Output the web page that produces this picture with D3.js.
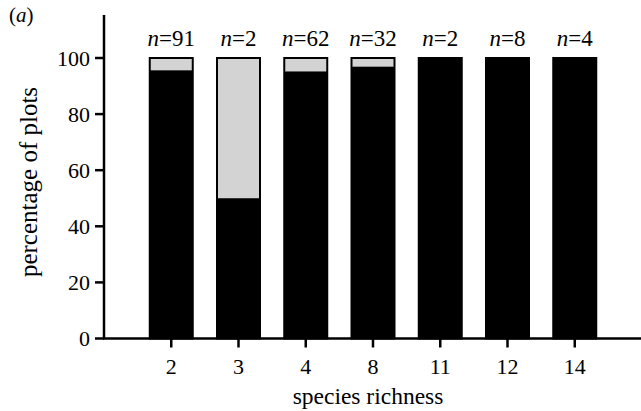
<!DOCTYPE html>
<html>
<head>
<meta charset="utf-8">
<script src="https://cdn.jsdelivr.net/npm/d3@7"></script>
<style>
  body { margin: 0; background: #fff; }
  text { font-family: "Liberation Serif", "Times New Roman", serif; fill: #000; }
</style>
</head>
<body>
<div id="grafico"></div>
<script>
// ==============================
// DATOS
// ==============================

const riqueza = ["2", "3", "4", "8", "11", "12", "14"];
const porcNegro = [95.6, 50, 95.2, 96.9, 100, 100, 100];   // parte negra
const nParcelas = [91, 2, 62, 32, 2, 8, 4];
const ticksY = [0, 20, 40, 60, 80, 100];

// ==============================
// SVG Y ESCALAS
// ==============================

const W = 641, H = 411;
const svg = d3.select("#grafico").append("svg")
  .attr("width", W).attr("height", H);

const x = d3.scalePoint().domain(riqueza).range([104, 642]).padding(1);
const y = d3.scaleLinear().domain([0, 100]).range([338.5, 58]);
const anchoBarra = 43;

// barras: fondo gris hasta 100, parte negra encima
const barras = svg.append("g");
riqueza.forEach((r, i) => {
  const x0 = x(r) - anchoBarra / 2;
  barras.append("rect")
    .attr("x", x0).attr("y", y(100))
    .attr("width", anchoBarra).attr("height", y(0) - y(100))
    .attr("fill", "#d3d3d3");
  barras.append("rect")
    .attr("x", x0).attr("y", y(porcNegro[i]))
    .attr("width", anchoBarra).attr("height", y(0) - y(porcNegro[i]))
    .attr("fill", "#000");
  barras.append("rect")
    .attr("x", x0).attr("y", y(100))
    .attr("width", anchoBarra).attr("height", y(0) - y(100))
    .attr("fill", "none").attr("stroke", "#000").attr("stroke-width", 2);
});

// ==============================
// EJES
// ==============================

const ejeY = svg.append("g").attr("transform", "translate(104,0)");
ejeY.append("line")
  .attr("x1", 0).attr("x2", 0).attr("y1", 15).attr("y2", y(0))
  .attr("stroke", "#000").attr("stroke-width", 2.5);
ejeY.selectAll(".tick").data(ticksY).join("g")
  .attr("transform", d => `translate(0,${y(d)})`)
  .each(function (d) {
    const g = d3.select(this);
    g.append("line").attr("x1", -9).attr("x2", 0)
      .attr("stroke", "#000").attr("stroke-width", 2.5);
    g.append("text").attr("x", -14).attr("dy", "0.35em")
      .attr("text-anchor", "end").attr("font-size", 22).text(d);
  });

const ejeX = svg.append("g").attr("transform", `translate(0,${y(0)})`);
ejeX.append("line")
  .attr("x1", 103).attr("x2", W).attr("stroke", "#000").attr("stroke-width", 2.5);
ejeX.selectAll(".tick").data(riqueza).join("g")
  .attr("transform", d => `translate(${x(d)},0)`)
  .each(function (d) {
    const g = d3.select(this);
    g.append("line").attr("y1", 0).attr("y2", 9)
      .attr("stroke", "#000").attr("stroke-width", 2.5);
    g.append("text").attr("y", 35)
      .attr("text-anchor", "middle").attr("font-size", 22).text(d);
  });

// etiquetas n=
riqueza.forEach((r, i) => {
  const t = svg.append("text")
    .attr("x", x(r)).attr("y", 46)
    .attr("text-anchor", "middle").attr("font-size", 23);
  t.append("tspan").attr("font-style", "italic").text("n");
  t.append("tspan").text("=" + nParcelas[i]);
});

// títulos
svg.append("text")
  .attr("x", 368).attr("y", 404)
  .attr("text-anchor", "middle").attr("font-size", 23.5)
  .text("species richness");

svg.append("text")
  .attr("transform", "translate(37,182) rotate(-90)")
  .attr("text-anchor", "middle").attr("font-size", 25)
  .text("percentage of plots");

const etiqueta = svg.append("text").attr("x", 9).attr("y", 22).attr("font-size", 21);
etiqueta.append("tspan").text("(");
etiqueta.append("tspan").attr("font-style", "italic").text("a");
etiqueta.append("tspan").text(")");
</script>
</body>
</html>
